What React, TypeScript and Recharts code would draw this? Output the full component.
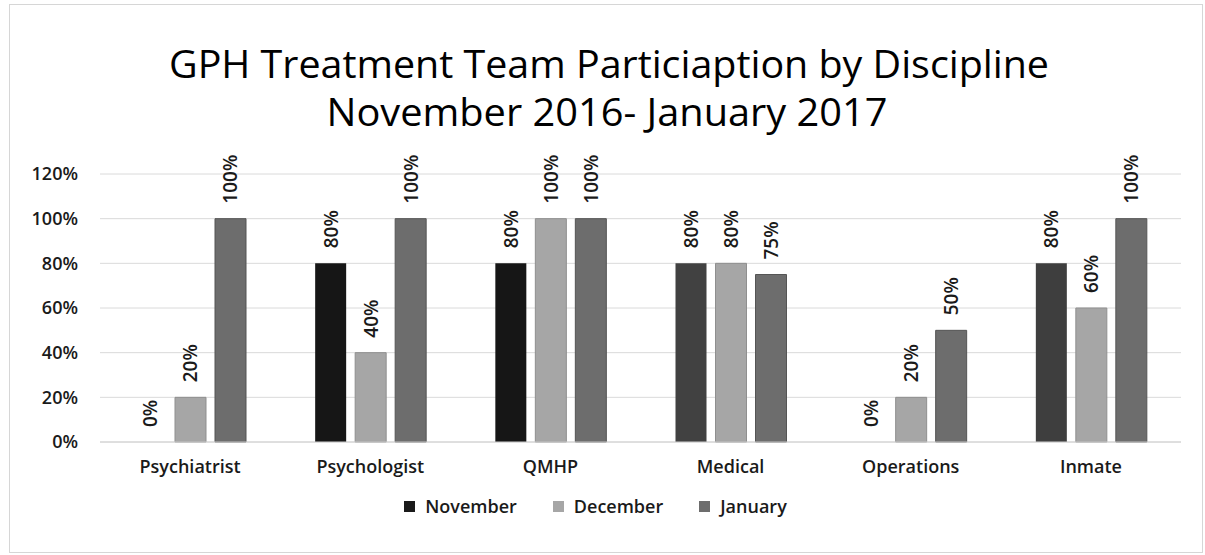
import React from 'react';
import { BarChart, Bar, XAxis, YAxis, CartesianGrid, Legend, LabelList, Cell } from 'recharts';

const disciplines = ['Psychiatrist', 'Psychologist', 'QMHP', 'Medical', 'Operations', 'Inmate'];
const november = [0, 80, 80, 80, 0, 80];
const december = [20, 40, 100, 80, 20, 60];
const january = [100, 100, 100, 75, 50, 100];
const yTicks = [0, 20, 40, 60, 80, 100, 120];
const titleLines = ['GPH Treatment Team Particiaption by Discipline', 'November 2016- January 2017'];

const data = disciplines.map((name, i) => ({
  name,
  November: november[i],
  December: december[i],
  January: january[i],
}));

const FONT = '"Open Sans", "Liberation Sans", sans-serif';

// scan makes some of the November bars look lighter than others
const novFill = ['#1c1c1c', '#161616', '#161616', '#414141', '#1c1c1c', '#3e3e3e'];

const series = [
  { key: 'November', color: '#1a1a1a' },
  { key: 'December', color: '#a6a6a6' },
  { key: 'January', color: '#6d6d6d' },
];

function RotatedLabel(props: any) {
  const { x, y, width, height, value } = props;
  const cx = x + width / 2;
  // zero bars get a tiny min height, so use the bottom edge as the top
  const top = Math.min(y, y + height);
  const ty = top - 15;
  return (
    <text
      x={cx}
      y={ty}
      transform={`rotate(-90, ${cx}, ${ty})`}
      textAnchor="start"
      dominantBaseline="central"
      fontSize={19}
      fontWeight={600}
      fontFamily={FONT}
      fill="#1a1a1a"
    >
      {`${value}%`}
    </text>
  );
}

function LegendBox() {
  return (
    <div
      style={{
        height: 60,
        display: 'flex',
        justifyContent: 'center',
        alignItems: 'flex-start',
        paddingLeft: 36,
        fontFamily: FONT,
        fontSize: 18,
        fontWeight: 600,
        color: '#1a1a1a',
      }}
    >
      {series.map((s) => (
        <div key={s.key} style={{ display: 'flex', alignItems: 'center', marginRight: 36, lineHeight: '22px' }}>
          <span style={{ display: 'inline-block', width: 11, height: 11, background: s.color, marginRight: 10 }} />
          <span>{s.key}</span>
        </div>
      ))}
    </div>
  );
}

export default function App() {
  return (
    <div style={{ position: 'absolute', left: 0, top: 0, width: 1205, height: 555, background: '#fff' }}>
      <div
        style={{
          position: 'absolute',
          left: 9,
          top: 4,
          width: 1192,
          height: 547,
          border: '1px solid #d6d6d6',
        }}
      />
      <svg width={1205} height={150} style={{ position: 'absolute', left: 0, top: 0 }}>
        <text x={609} y={78} textAnchor="middle" fontSize={38} fontFamily={FONT} fill="#000" textLength={880} lengthAdjust="spacingAndGlyphs">
          {titleLines[0]}
        </text>
        <text x={607} y={126} textAnchor="middle" fontSize={38} fontFamily={FONT} fill="#000" textLength={561} lengthAdjust="spacingAndGlyphs">
          {titleLines[1]}
        </text>
      </svg>
      <div style={{ position: 'absolute', left: 0, top: 0 }}>
        <BarChart
          width={1205}
          height={555}
          data={data}
          margin={{ top: 174, right: 24, left: 10, bottom: 0 }}
          barSize={31}
          barGap={9}
        >
          <CartesianGrid vertical={false} stroke="#dadada" />
          <XAxis
            dataKey="name"
            height={53}
            axisLine={{ stroke: '#d0d0d0' }}
            tickLine={false}
            tickMargin={12}
            tick={{ fontSize: 18, fontWeight: 600, fill: '#1a1a1a', fontFamily: FONT }}
          />
          <YAxis
            width={90}
            domain={[0, 120]}
            ticks={yTicks}
            axisLine={false}
            tickLine={false}
            tickMargin={16}
            tickFormatter={(v) => `${v}%`}
            tick={{ fontSize: 18, fontWeight: 600, fill: '#1a1a1a', fontFamily: FONT }}
          />
          <Legend verticalAlign="bottom" content={() => <LegendBox />} />
          <Bar dataKey="November" fill="#1a1a1a" minPointSize={0.01} isAnimationActive={false}>
            {data.map((d, i) => (
              <Cell key={d.name} fill={novFill[i]} />
            ))}
            <LabelList dataKey="November" content={RotatedLabel} />
          </Bar>
          <Bar dataKey="December" fill="#a6a6a6" stroke="#8f8f8f" strokeWidth={1} isAnimationActive={false}>
            <LabelList dataKey="December" content={RotatedLabel} />
          </Bar>
          <Bar dataKey="January" fill="#6d6d6d" stroke="#555" strokeWidth={1} isAnimationActive={false}>
            <LabelList dataKey="January" content={RotatedLabel} />
          </Bar>
        </BarChart>
      </div>
    </div>
  );
}
